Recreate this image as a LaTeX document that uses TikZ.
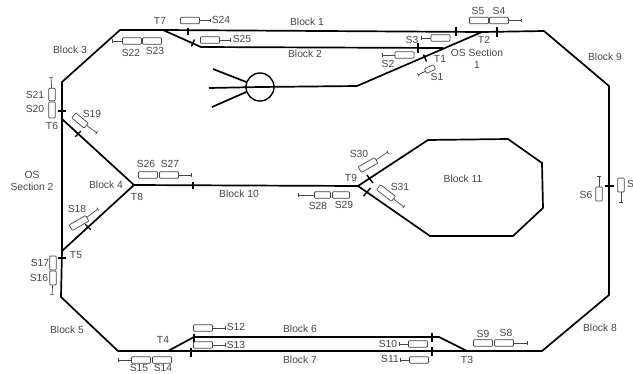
\documentclass[tikz,border=0pt]{standalone}
\usepackage{fontspec}
\setmainfont{Liberation Sans}
\usetikzlibrary{positioning, arrows.meta}
\definecolor{inkcol}{RGB}{70, 70, 70}
\tikzset{
  track/.style={line width=1.7pt, black, line join=miter},
  tickmark/.style={line width=1.4pt, black},
  sig/.style={draw=inkcol, rounded corners=0.8pt, line width=0.7pt, minimum width=19pt,
              minimum height=6.5pt, inner sep=0pt, fill=white},
  sigv/.style={sig, rotate=90, minimum width=14pt},
  stem/.style={-{Bar[width=3.5pt, line width=0.7pt]}, draw=inkcol, line width=0.7pt},
  lab/.style={font=\fontsize{10.3}{12}\selectfont, text=inkcol, inner sep=0pt, align=center},
}

\begin{document}
\begin{tikzpicture}[x=1pt, y=-1pt]
  \fill[white] (0,0) rectangle (633,373);
  \useasboundingbox (0,0) rectangle (633,373);

  % main loop
  \coordinate (nw1) at (62,82);
  \coordinate (nw2) at (120,30);
  \coordinate (t7) at (163,30);
  \coordinate (t2) at (482,32);
  \coordinate (ne1) at (544,31);
  \coordinate (ne2) at (609,86);
  \coordinate (se1) at (609,295);
  \coordinate (se2) at (542,351);
  \coordinate (t3) at (467,351);
  \coordinate (t4) at (168,351);
  \coordinate (sw1) at (118,351);
  \coordinate (sw2) at (61,297);
  \coordinate (t5) at (62,251);
  \coordinate (t6) at (62,119);
  \draw[track] (nw1) -- (nw2) -- (t7) -- (t2) -- (ne1) -- (ne2) -- (se1) -- (se2) -- (t3) -- (t4)
    -- (sw1) -- (sw2) -- (t5) -- (t6) -- cycle;

  % passing loops
  \coordinate (b2a) at (201,47);
  \coordinate (b2b) at (443,48);
  \coordinate (b6a) at (194,337);
  \coordinate (b6b) at (439,337);
  \draw[track] (t7) -- (b2a) -- (b2b);
  \draw[track] (t4) -- (b6a) -- (b6b) -- (t3);

  % turntable
  \node[draw, circle, line width=1.4pt, minimum size=28pt, inner sep=0pt] (turn) at (260,87) {};
  \coordinate (yard) at (357,86);
  \coordinate (yd1) at (213,69);
  \coordinate (yd2) at (209,88);
  \coordinate (yd3) at (212,107);
  \draw[track] (t2) -- (yard) -- (turn.center) -- (yd2);
  \draw[track] (yd1) -- (turn.160);
  \draw[track] (yd3) -- (turn.200);

  % inner section
  \coordinate (t8) at (134,185);
  \coordinate (t9) at (358,186);
  \draw[track] (t6) -- (t8) -- (t5);
  \draw[track] (t8) -- (t9);
  \coordinate (in1) at (428,140);
  \coordinate (in2) at (508,139);
  \coordinate (in3) at (542,163);
  \coordinate (in4) at (543,208);
  \coordinate (in5) at (513,236);
  \coordinate (in6) at (430,236);
  \draw[track] (t9) -- (in1) -- (in2) -- (in3) -- (in4) -- (in5) -- (in6) -- cycle;

  % block joints
  \foreach \x/\y/\dx/\dy in {188/31/0/3.5, 193/43/1.5/-3.5, 456/31/0/4.5, 497/32/0/5, 418/48/0/5,
      425/58/-1.5/-3.5, 62/111/4/0, 78/134/2.8/-2.8, 193/185/0/3.5, 62/258/4/0, 88/227/2.8/2.8,
      609/186/4.5/0, 370/179/3/4, 367/192/3.5/-4, 194/338/0/4.5, 191/352/0/4.5, 432/337/0/4.5,
      432/351/0/4.5}
    \draw[tickmark] (\x-\dx,\y-\dy) -- (\x+\dx,\y+\dy);

  % signals
  \node[sig] (s24) at (190,20.5) {};
  \node[sig] (s25) at (210,40) {};
  \node[sig] (s22) at (132,41) {};
  \node[sig] (s23) at (152,41) {};
  \node[sigv, minimum width=12.5pt] (s21) at (52,94.5) {};
  \node[sigv, minimum width=16pt] (s20) at (52,110) {};
  \node[sig, rotate=-40, minimum width=16pt] (s19) at (80,120.5) {};
  \node[sig] (s26) at (148,175) {};
  \node[sig] (s27) at (169,175) {};
  \node[sig, rotate=30] (s18) at (79,223) {};
  \node[sigv] (s17) at (53,263) {};
  \node[sigv] (s16) at (53,278) {};
  \node[sig] (s15) at (141,360) {};
  \node[sig] (s14) at (162,360) {};
  \node[sig] (s12) at (203,328) {};
  \node[sig] (s13) at (203,345) {};
  \node[sig] (s10) at (418,344) {};
  \node[sig] (s11) at (419,360) {};
  \node[sig] (s9) at (483,343) {};
  \node[sig] (s8) at (504,343) {};
  \node[sig, minimum width=16pt] (s28) at (322.5,195) {};
  \node[sig, minimum width=17pt] (s29) at (341,195) {};
  \node[sig, rotate=30] (s30) at (368,165) {};
  \node[sig, rotate=-38] (s31) at (386,193) {};
  \node[sigv] (s6) at (599,194) {};
  \node[sigv] (s7) at (621,185) {};
  \node[sig, rotate=25, minimum width=10pt, minimum height=5pt] (s1) at (430,69) {};
  \node[sig] (s2) at (404.5,55) {};
  \node[sig] (s3) at (440.5,38) {};
  \node[sig] (s5) at (479,20.5) {};
  \node[sig] (s4) at (499,20.5) {};

  \foreach \n/\x/\y in {s24/211/20.5, s25/231/40, s22/112/41, s21/51/77, s19/97/133, s27/192/175,
      s18/98/209, s16/52/295, s15/118/360, s12/226/328, s13/226/345, s10/399/344, s11/400/360,
      s8/528/343, s28/298/195, s30/388/152, s31/404/207, s6/599/176, s7/621/203, s1/418/75,
      s2/382/55, s3/421/38, s4/522/20.5} {
    \coordinate (\n end) at (\x,\y);
    \draw[stem] (\n) -- (\n end);
  }

  % block labels
  \node[lab] (b1) at (307,22) {Block 1};
  \node[lab] (b2) at (305,54) {Block 2};
  \node[lab] (b3) at (70,50) {Block 3};
  \node[lab] (b4) at (106,185) {Block 4};
  \node[lab] (b5) at (67,330) {Block 5};
  \node[lab] (b6) at (300,329) {Block 6};
  \node[lab] (b7) at (300,360) {Block 7};
  \node[lab] (b8) at (600,328) {Block 8};
  \node[lab] (b9) at (605,57) {Block 9};
  \node[lab] (b10) at (239,194) {Block 10};
  \node[lab] (b11) at (463,179) {Block 11};
  \node[lab] (os1) at (477,59) {OS Section\\1};
  \node[lab] (os2) at (32,181) {OS\\Section 2};

  % turnout labels
  \node[lab] (lt1) at (440,59) {T1};
  \node[lab] (lt2) at (484,40) {T2};
  \node[lab] (lt3) at (467,360) {T3};
  \node[lab] (lt4) at (163,340) {T4};
  \node[lab] (lt5) at (76,255) {T5};
  \node[lab] (lt6) at (52,126) {T6};
  \node[lab] (lt7) at (160,21) {T7};
  \node[lab] (lt8) at (137,197) {T8};
  \node[lab] (lt9) at (351,178) {T9};

  % signal labels
  \node[lab] (ls1) at (437,77) {S1};
  \node[lab] (ls2) at (388,64) {S2};
  \node[lab] (ls3) at (412,40) {S3};
  \node[lab] (ls4) at (499,11) {S4};
  \node[lab] (ls5) at (478,11) {S5};
  \node[lab] (ls6) at (586,195) {S6};
  \node[lab, anchor=west] (ls7) at (627,184) {S};
  \node[lab] (ls8) at (506,333) {S8};
  \node[lab] (ls9) at (483,334) {S9};
  \node[lab] (ls10) at (388,344) {S10};
  \node[lab] (ls11) at (390,359) {S11};
  \node[lab] (ls12) at (236,327) {S12};
  \node[lab] (ls13) at (236,345) {S13};
  \node[lab] (ls14) at (163,367.5) {S14};
  \node[lab] (ls15) at (139,367.5) {S15};
  \node[lab] (ls16) at (39,278) {S16};
  \node[lab] (ls17) at (40,263) {S17};
  \node[lab] (ls18) at (77,209) {S18};
  \node[lab] (ls19) at (92,114) {S19};
  \node[lab] (ls20) at (35,109) {S20};
  \node[lab] (ls21) at (35,95) {S21};
  \node[lab] (ls22) at (131,53) {S22};
  \node[lab] (ls23) at (155,51) {S23};
  \node[lab] (ls24) at (221,20) {S24};
  \node[lab] (ls25) at (242,39) {S25};
  \node[lab] (ls26) at (146,164) {S26};
  \node[lab] (ls27) at (170,164) {S27};
  \node[lab] (ls28) at (318,206) {S28};
  \node[lab] (ls29) at (344,205) {S29};
  \node[lab] (ls30) at (359,154) {S30};
  \node[lab] (ls31) at (400,187) {S31};
\end{tikzpicture}
\end{document}
